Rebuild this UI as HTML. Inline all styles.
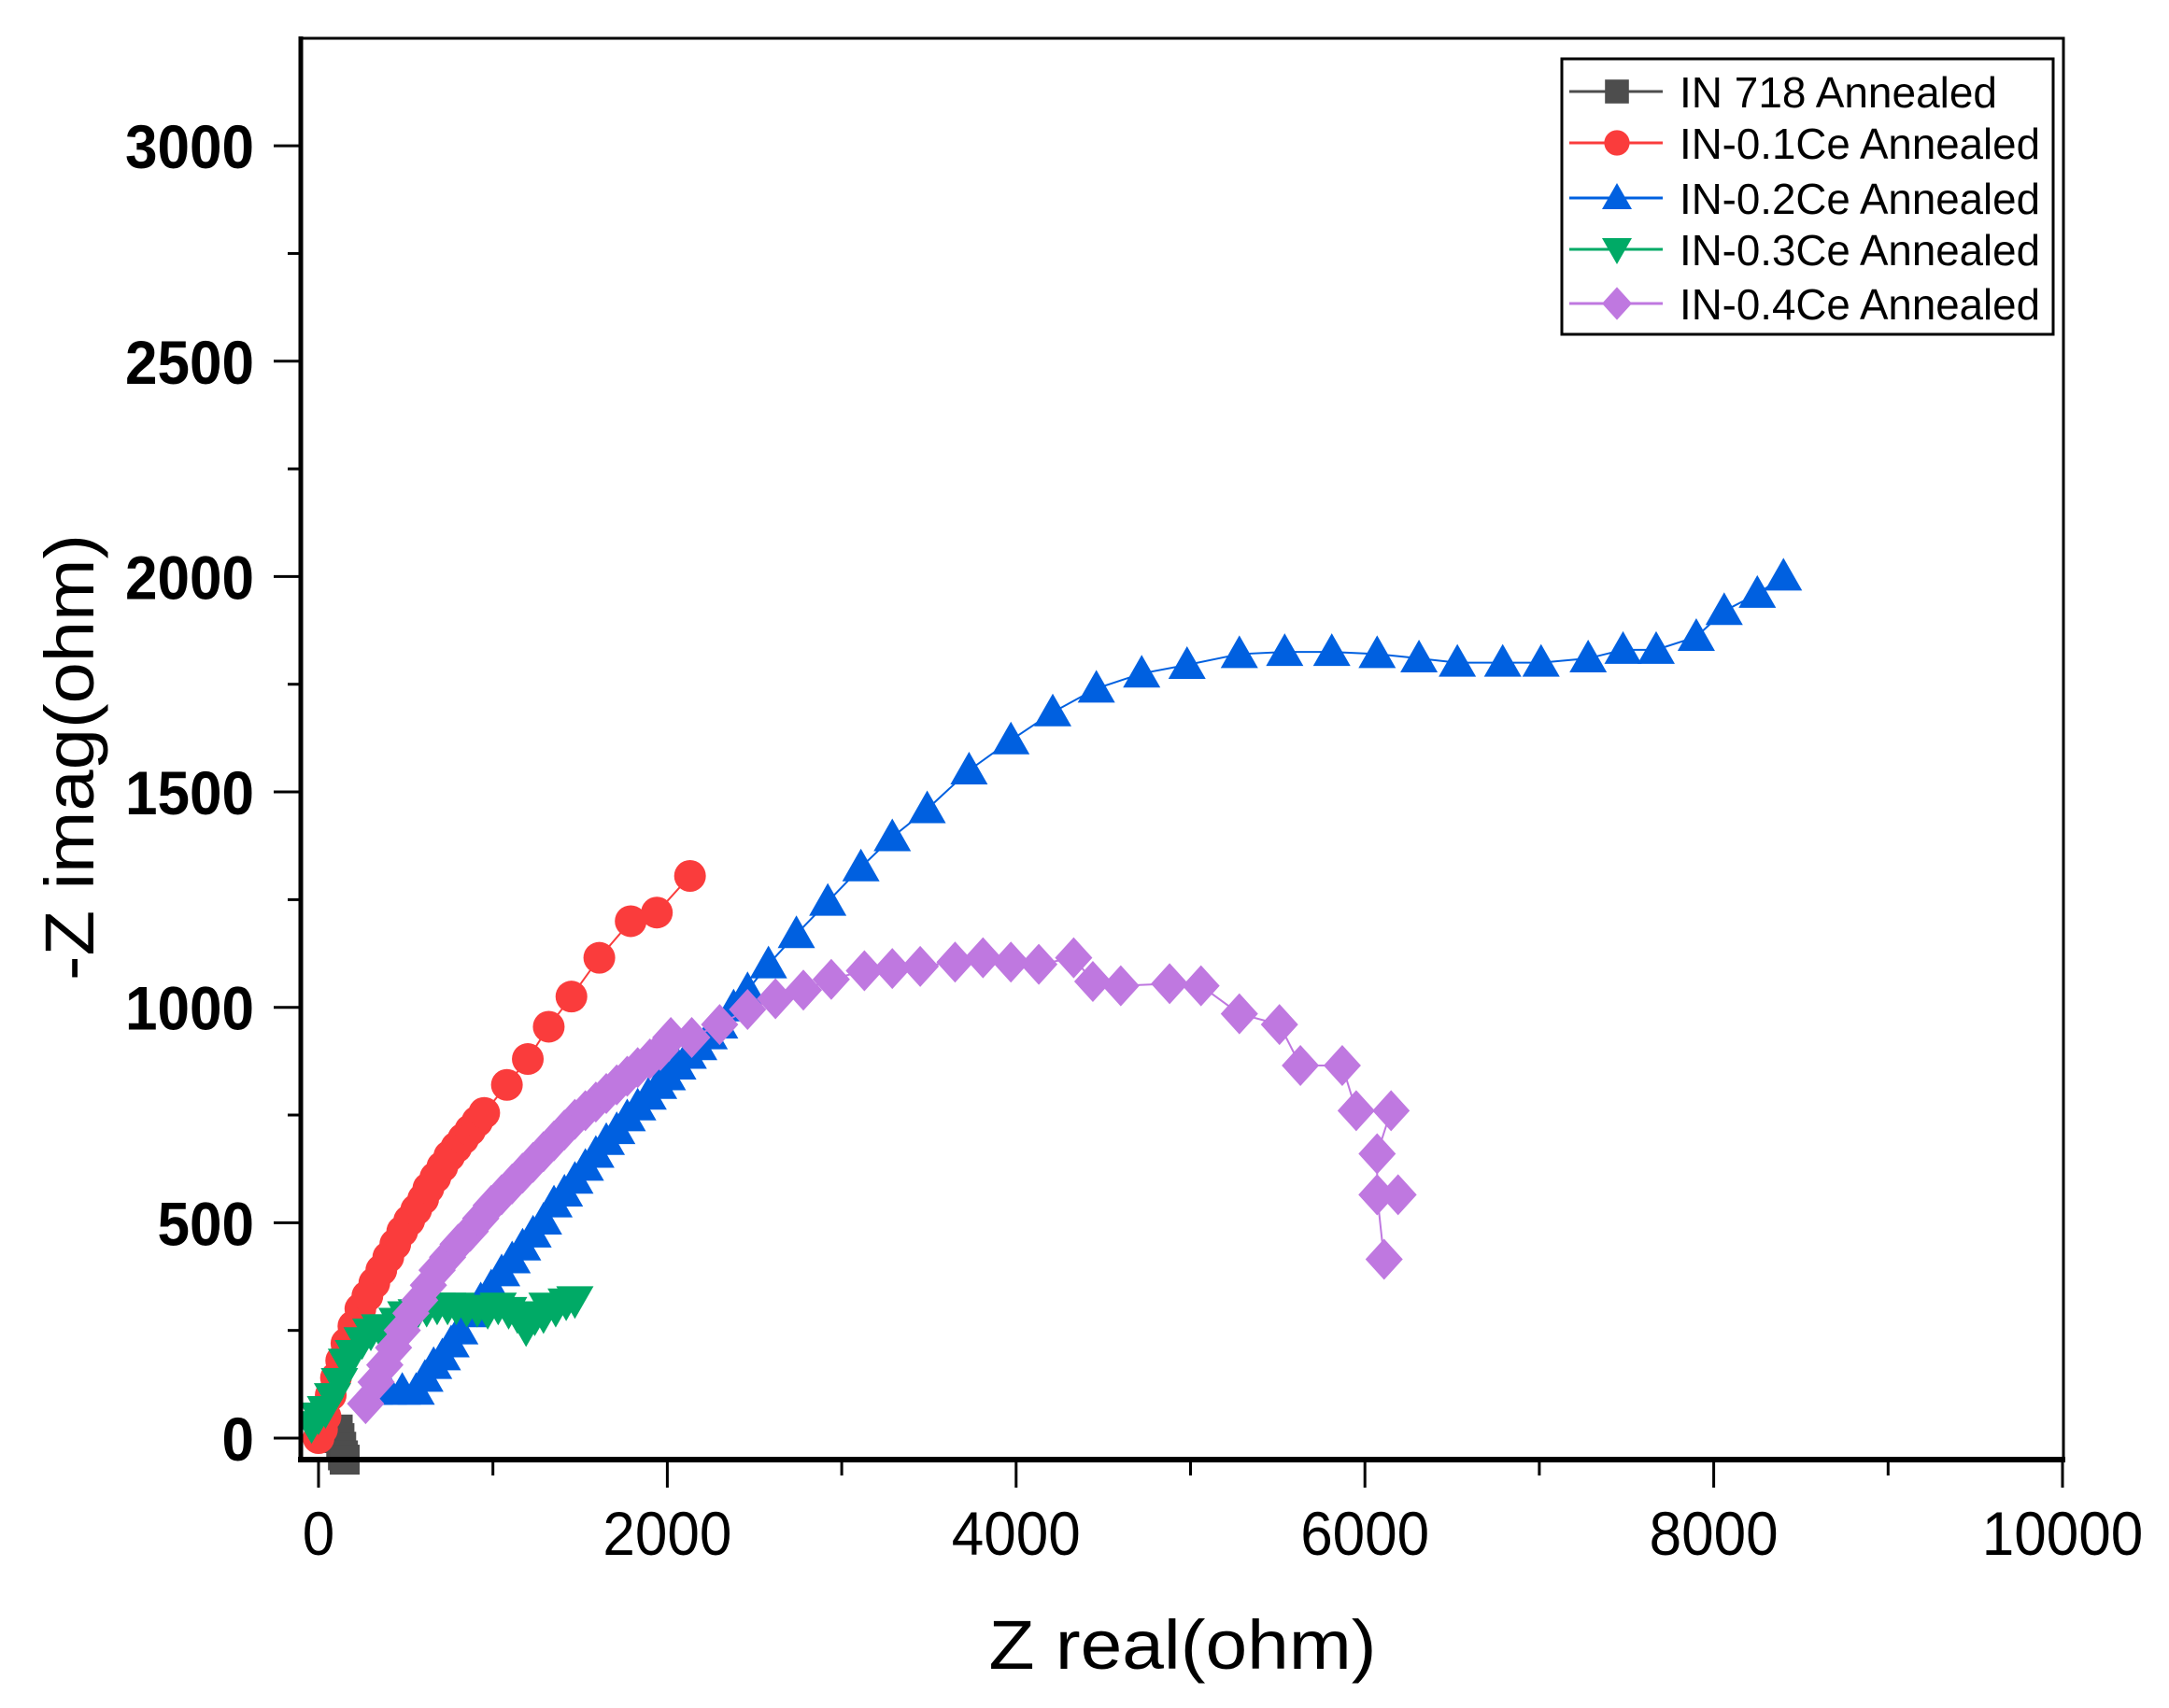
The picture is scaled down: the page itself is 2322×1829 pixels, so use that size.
<!DOCTYPE html>
<html><head><meta charset="utf-8">
<style>
html,body{margin:0;padding:0;background:#fff;}
svg{display:block;}
text{font-family:"Liberation Sans",Arial,sans-serif;}
</style></head>
<body>
<svg id="chart" width="2322" height="1829" viewBox="0 0 2322 1829" xmlns="http://www.w3.org/2000/svg">
<rect x="0" y="0" width="2322" height="1829" fill="#fff"/>
<g id="plot"></g>
<g id="axes"></g>
<g id="legend"></g>
</svg>
<script>
const xTicks=[0,2000,4000,6000,8000,10000];
const yTicks=[0,500,1000,1500,2000,2500,3000];
const seriesNames=["IN 718 Annealed","IN-0.1Ce Annealed","IN-0.2Ce Annealed","IN-0.3Ce Annealed","IN-0.4Ce Annealed"];
const seriesColors=["#4d4d4d","#fa3c3c","#0060e0","#00aa66","#bf78e0"];
const seriesShapes=["square","circle","triangle","down","diamond"];
const in718X=[110,120,130,140,150];
const in718Y=[20,0,-20,-40,-50];
const ce01X=[0,20,40,70,100,130,160,200,240,280,320,360,400,440,480,520,560,600,630,670,710,750,790,830,870,910,950,1080,1200,1320,1450,1610,1790,1940,2130];
const ce01Y=[0,20,50,100,140,180,220,260,300,330,360,390,420,450,480,505,530,555,580,605,630,655,675,695,715,735,755,820,880,955,1025,1115,1200,1220,1305];
const ce02X=[320,400,480,560,610,660,710,760,810,870,930,990,1050,1110,1170,1230,1290,1350,1410,1470,1530,1590,1650,1710,1770,1830,1890,1950,2000,2060,2120,2180,2240,2300,2380,2460,2580,2740,2920,3110,3290,3490,3730,3970,4210,4460,4720,4980,5280,5540,5810,6070,6310,6530,6790,7010,7280,7480,7670,7900,8060,8250,8400];
const ce02Y=[110,110,110,110,140,170,190,220,250,290,320,350,385,415,445,475,505,545,570,600,630,660,690,715,745,770,795,820,840,865,890,910,935,960,1000,1040,1100,1170,1245,1325,1395,1460,1550,1620,1685,1740,1775,1795,1820,1825,1825,1820,1810,1800,1800,1800,1810,1830,1830,1860,1920,1960,2000];
const ce03X=[-40,0,40,80,120,160,200,250,300,350,400,450,500,560,620,680,740,790,850,910,970,1030,1090,1140,1190,1240,1290,1310,1360,1420,1470];
const ce03Y=[30,50,65,95,130,175,195,225,245,255,255,270,285,290,300,305,305,305,300,300,295,305,295,285,255,280,285,305,300,315,320];
const ce04X=[270,330,380,430,480,530,580,630,680,740,800,870,930,990,1050,1110,1170,1230,1290,1350,1410,1470,1530,1590,1650,1710,1770,1830,1900,1960,2020,2140,2300,2460,2620,2780,2940,3130,3290,3450,3650,3810,3970,4130,4330,4440,4600,4880,5060,5280,5510,5630,5870,5950,6150,6070,6070,6190,6070,6110];
const ce04Y=[80,130,170,210,250,290,320,355,390,420,450,480,510,540,565,590,615,640,665,690,715,740,760,780,800,820,840,860,880,900,930,930,960,995,1020,1040,1065,1085,1090,1095,1105,1115,1105,1100,1115,1060,1050,1055,1050,985,960,865,865,760,760,660,565,565,565,415];
const seriesX=[in718X,ce01X,ce02X,ce03X,ce04X];
const seriesY=[in718Y,ce01Y,ce02Y,ce03Y,ce04Y];

const NS="http://www.w3.org/2000/svg";
function X(v){return 341+v*0.1867;}
function Y(v){return 1540-v*0.4613;}
function mk(tag,attrs,parent){const e=document.createElementNS(NS,tag);for(const k in attrs)e.setAttribute(k,attrs[k]);parent.appendChild(e);return e;}
function marker(shape,cx,cy,s,color,parent){
  let e;
  if(shape==="square") e=mk("rect",{x:cx-s*0.8,y:cy-s*0.8,width:s*1.6,height:s*1.6,fill:color},parent);
  else if(shape==="circle") e=mk("circle",{cx:cx,cy:cy,r:s*0.85,fill:color},parent);
  else if(shape==="triangle") e=mk("polygon",{points:`${cx},${cy-s} ${cx-s},${cy+s*0.75} ${cx+s},${cy+s*0.75}`,fill:color},parent);
  else if(shape==="down") e=mk("polygon",{points:`${cx},${cy+s} ${cx-s},${cy-s*0.75} ${cx+s},${cy-s*0.75}`,fill:color},parent);
  else e=mk("polygon",{points:`${cx},${cy-s*1.1} ${cx+s},${cy} ${cx},${cy+s*1.1} ${cx-s},${cy}`,fill:color},parent);
  return e;
}
const plot=document.getElementById("plot");
const axes=document.getElementById("axes");
const legend=document.getElementById("legend");
const clip=mk("clipPath",{id:"clipP"},document.getElementById("chart"));
mk("rect",{x:322,y:41,width:1887,height:1540},clip);
plot.setAttribute("clip-path","url(#clipP)");

for(let i=0;i<seriesX.length;i++){
  const g=mk("g",{},plot);
  
  
  const pts=seriesX[i].map((x,j)=>X(x)+","+Y(seriesY[i][j])).join(" ");
  const ln=mk("polyline",{points:pts,fill:"none",stroke:seriesColors[i],"stroke-width":2},g);
  
  
  for(let j=0;j<seriesX[i].length;j++){
    const m=marker(seriesShapes[i],X(seriesX[i][j]),Y(seriesY[i][j]),20,seriesColors[i],g);
    
    
  }
}

const fr=mk("rect",{x:322,y:41,width:1887,height:1522,fill:"none",stroke:"#000","stroke-width":3},axes);


const la=mk("line",{x1:322,y1:39,x2:322,y2:1566,stroke:"#000","stroke-width":5},axes);


const ba=mk("line",{x1:319,y1:1563,x2:2211,y2:1563,stroke:"#000","stroke-width":6},axes);



for(let v=0;v<=3000;v+=250){
  const major=v%500===0;
  const t=mk("line",{x1:major?293:308,y1:Y(v),x2:322,y2:Y(v),stroke:"#000","stroke-width":3},axes);
  
  
}
for(const v of yTicks){
  const t=mk("text",{x:272,y:Y(v)+24,"text-anchor":"end","font-size":66,"font-weight":"bold",fill:"#000",textLength:String(v).length*34.5,lengthAdjust:"spacingAndGlyphs"},axes);
  t.textContent=v;
  
  
}
for(let v=0;v<=10000;v+=1000){
  const major=v%2000===0;
  const t=mk("line",{x1:X(v),y1:1563,x2:X(v),y2:major?1593:1580,stroke:"#000","stroke-width":3},axes);
  
  
}
for(const v of xTicks){
  const t=mk("text",{x:X(v),y:1665,"text-anchor":"middle","font-size":66,fill:"#000",textLength:String(v).length*34.5,lengthAdjust:"spacingAndGlyphs"},axes);
  t.textContent=v;
  
  
}
const xt=mk("text",{x:1266,y:1787,"text-anchor":"middle","font-size":74,fill:"#000",textLength:415,lengthAdjust:"spacingAndGlyphs"},axes);
xt.textContent="Z real(ohm)";


const yt=mk("text",{x:0,y:0,"text-anchor":"middle","font-size":74,fill:"#000",textLength:478,lengthAdjust:"spacingAndGlyphs",transform:"translate(100,811) rotate(-90)"},axes);
yt.textContent="-Z imag(ohm)";



const lb=mk("rect",{x:1672,y:63,width:526,height:295,fill:"#fff",stroke:"#000","stroke-width":3},legend);


const rowY=[98,153,212,267,325];
for(let i=0;i<seriesNames.length;i++){
  const g=mk("g",{},legend);
  
  
  mk("line",{x1:1680,y1:rowY[i],x2:1780,y2:rowY[i],stroke:seriesColors[i],"stroke-width":3},g);
  marker(seriesShapes[i],1731,rowY[i],16,seriesColors[i],g);
  const t=mk("text",{x:1798,y:rowY[i]+17,"font-size":46,fill:"#000",textLength:i===0?340:386,lengthAdjust:"spacingAndGlyphs"},g);
  t.textContent=seriesNames[i];
}
</script>
</body></html>
